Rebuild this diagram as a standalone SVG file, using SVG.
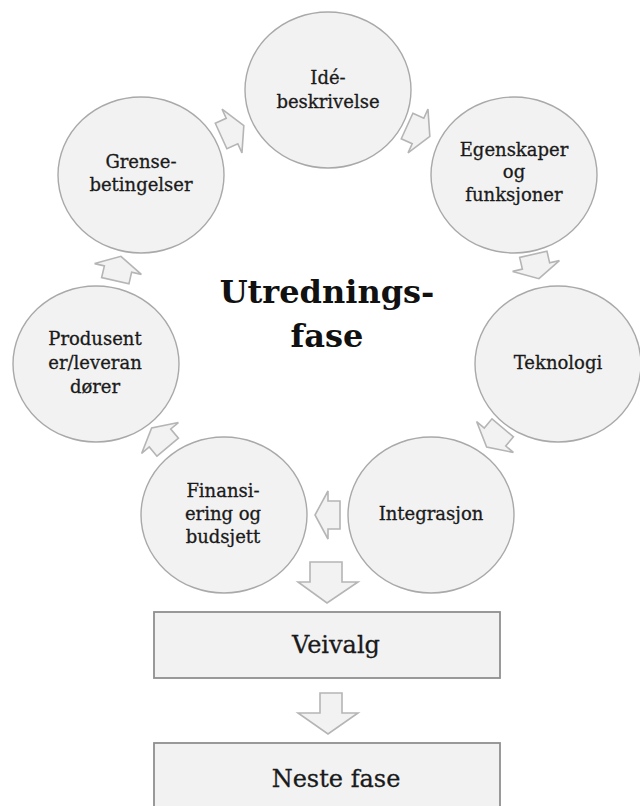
<svg xmlns="http://www.w3.org/2000/svg" width="640" height="806" viewBox="0 0 640 806">
<style>
  .node { fill: #f2f2f2; stroke: #a9a9a9; stroke-width: 1.4; }
  .box { fill: #f2f2f2; stroke: #8f8f8f; stroke-width: 1.8; }
  .arr { fill: #f2f2f2; stroke: #b5b5b5; stroke-width: 1.6; stroke-linejoin: miter; }
  .lbl { font-family: "DejaVu Serif", "Liberation Serif", serif; font-size: 18px; fill: #1a1a1a; stroke: #1a1a1a; stroke-width: 0.3; text-anchor: middle; }
  .big { font-family: "DejaVu Serif", "Liberation Serif", serif; font-size: 24px; fill: #1a1a1a; stroke: #1a1a1a; stroke-width: 0.3; text-anchor: middle; }
  .title { font-family: "DejaVu Serif", "Liberation Serif", serif; font-size: 32px; font-weight: bold; fill: #111; text-anchor: middle; }
</style>
<defs>
  <path id="ra" d="M-12,-14 L0,-14 L0,-24 L13,0 L0,24 L0,14 L-12,14 Z"/>
</defs>
<rect width="640" height="806" fill="#ffffff"/>

<g id="connectors">
  <use href="#ra" class="arr" transform="translate(232,131) rotate(-24.5)"/>
  <use href="#ra" class="arr" transform="translate(418,131) rotate(24.5)"/>
  <use href="#ra" class="arr" transform="translate(536,266) rotate(77)"/>
  <use href="#ra" class="arr" transform="translate(495,437) rotate(130)"/>
  <use href="#ra" class="arr" transform="translate(328,515) rotate(180)"/>
  <use href="#ra" class="arr" transform="translate(160,438) rotate(230)"/>
  <use href="#ra" class="arr" transform="translate(118,269) rotate(283)"/>
  <path class="arr" d="M310,562 L342,562 L342,582 L358,582 L327,603 L298,582 L310,582 Z"/>
  <path class="arr" d="M320,693 L342,693 L342,713 L358,713 L328,734 L298,713 L320,713 Z"/>
</g>

<g id="node-ide">
  <ellipse class="node" cx="328" cy="90" rx="83" ry="78"/>
  <text class="lbl" x="328" y="84">Idé-</text>
  <text class="lbl" x="328" y="108">beskrivelse</text>
</g>
<g id="node-egenskaper">
  <ellipse class="node" cx="514" cy="175" rx="83" ry="78"/>
  <text class="lbl" x="514" y="156">Egenskaper</text>
  <text class="lbl" x="514" y="178">og</text>
  <text class="lbl" x="514" y="201">funksjoner</text>
</g>
<g id="node-teknologi">
  <ellipse class="node" cx="558" cy="364" rx="83" ry="78"/>
  <text class="lbl" x="558" y="369">Teknologi</text>
</g>
<g id="node-integrasjon">
  <ellipse class="node" cx="431" cy="515" rx="83" ry="78"/>
  <text class="lbl" x="431" y="520">Integrasjon</text>
</g>
<g id="node-finansiering">
  <ellipse class="node" cx="224" cy="515" rx="83" ry="78"/>
  <text class="lbl" x="223" y="497">Finansi-</text>
  <text class="lbl" x="223" y="520">ering og</text>
  <text class="lbl" x="223" y="543">budsjett</text>
</g>
<g id="node-produsent">
  <ellipse class="node" cx="96" cy="364" rx="83" ry="78"/>
  <text class="lbl" x="95" y="345">Produsent</text>
  <text class="lbl" x="95" y="369">er/leveran</text>
  <text class="lbl" x="95" y="393">dører</text>
</g>
<g id="node-grense">
  <ellipse class="node" cx="141" cy="175" rx="83" ry="78"/>
  <text class="lbl" x="141" y="168">Grense-</text>
  <text class="lbl" x="141" y="191">betingelser</text>
</g>

<g id="title">
  <text class="title" x="327" y="303">Utrednings-</text>
  <text class="title" x="327" y="347">fase</text>
</g>

<g id="node-veivalg">
  <rect class="box" x="154" y="612" width="346" height="66"/>
  <text class="big" x="336" y="653">Veivalg</text>
</g>
<g id="node-neste">
  <rect class="box" x="154" y="743" width="346" height="90"/>
  <text class="big" x="336" y="787">Neste fase</text>
</g>
</svg>
